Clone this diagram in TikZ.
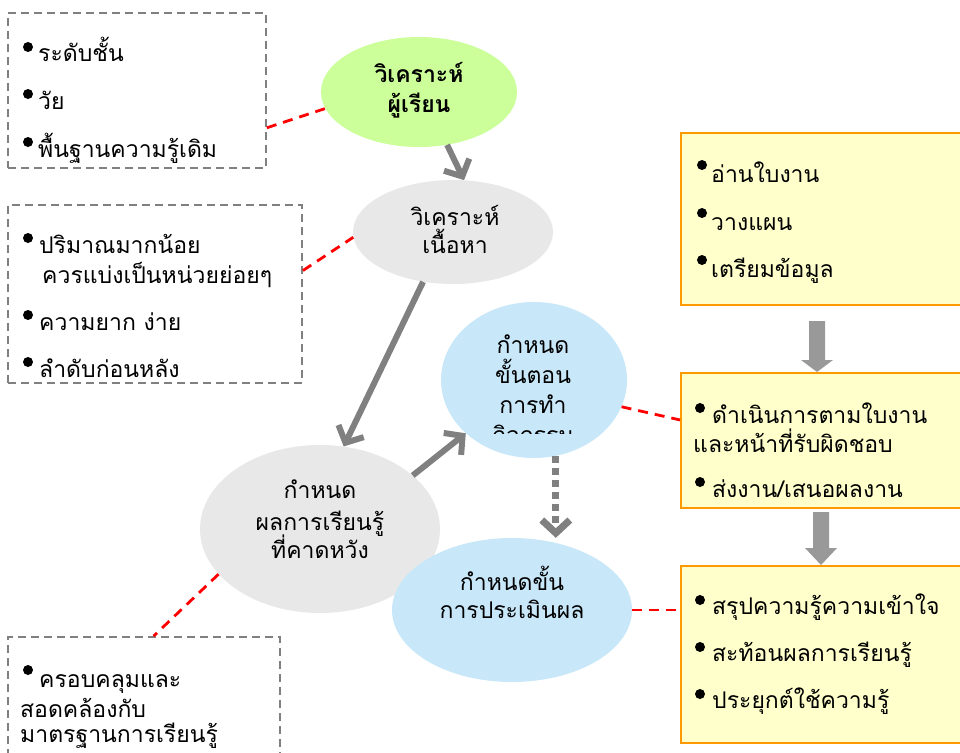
\documentclass[tikz,border=0pt]{standalone}
\usepackage{fontspec}
\setmainfont[Script=Thai]{Loma}
\usetikzlibrary{arrows.meta,shapes.geometric,calc}

\definecolor{leafgreen}{HTML}{CCFF99}
\definecolor{mistgray}{HTML}{E8E8E8}
\definecolor{skyblue}{HTML}{C8E8FA}
\definecolor{notefill}{HTML}{FFFFCC}
\definecolor{noteedge}{HTML}{FF9900}
\definecolor{arrowgray}{HTML}{808080}
\definecolor{blockgray}{HTML}{999999}

\tikzset{
  txt/.style={anchor=base west, inner sep=0pt, font=\fontsize{23}{23}\selectfont},
  etxt/.style={anchor=base, inner sep=0pt, font=\fontsize{23}{23}\selectfont},
  dot/.style={circle, fill=black, inner sep=0pt, minimum size=10pt},
  bubble/.style={ellipse, inner sep=0pt},
  notebox/.style={rectangle, inner sep=0pt, draw=arrowgray, line width=1.8pt,
    dash pattern=on 8pt off 5pt},
  yellowbox/.style={rectangle, inner sep=0pt, draw=noteedge, fill=notefill, line width=2pt},
  redlink/.style={draw=red, line width=2.8pt, dash pattern=on 10pt off 7pt},
  flow/.style={draw=arrowgray, line width=6pt, -{Straight Barb[length=13pt, width=28pt]}},
  flowdot/.style={flow, line width=7pt, dash pattern=on 7pt off 5pt},
}

\begin{document}
\begin{tikzpicture}[x=1pt, y=-1pt]
\useasboundingbox (0,0) rectangle (960,752);
\clip (0,0) rectangle (960,752);
\fill[white] (0,0) rectangle (960,752);

% ---------- dashed note boxes on the left ----------
\node[notebox, minimum width=258pt, minimum height=155pt] (learner) at (137,90.5) {};
\node[notebox, minimum width=294pt, minimum height=178pt] (content) at (155,294) {};
\node[notebox, minimum width=272pt, minimum height=163pt] (standard) at (144,718.5) {};

% ---------- yellow task boxes on the right ----------
\node[yellowbox, minimum width=299pt, minimum height=172pt] (prep) at (830.5,219) {};
\node[yellowbox, minimum width=299pt, minimum height=135pt] (work) at (830.5,440.5) {};
\node[yellowbox, minimum width=299pt, minimum height=177pt] (sumup) at (830.5,654.5) {};

% block arrows between the task boxes
\fill[blockgray] (809,321) -- (825,321) -- (825,360) -- (833,360) -- (817,372)
  -- (801,360) -- (809,360) -- cycle;
\fill[blockgray] (813,512) -- (829,512) -- (829,548) -- (837,548) -- (821,565)
  -- (805,548) -- (813,548) -- cycle;

% ---------- process bubbles ----------
\node[bubble, fill=leafgreen, minimum width=196pt, minimum height=110pt] (g1) at (419,92) {};
\node[bubble, fill=mistgray, minimum width=200pt, minimum height=104pt] (g2) at (453,232) {};
\node[bubble, fill=mistgray, minimum width=240pt, minimum height=168pt] (g3) at (320,529) {};
\node[bubble, fill=skyblue, minimum width=186pt, minimum height=156pt] (b1) at (534,380) {};
\node[bubble, fill=skyblue, minimum width=240pt, minimum height=144pt] (b2) at (512,610) {};

% bubble captions
\node[etxt, font=\fontsize{23}{23}\selectfont\bfseries] (g1a) at (419,82) {วิเคราะห์};
\node[etxt, font=\fontsize{23}{23}\selectfont\bfseries] (g1b) at (419,112) {ผู้เรียน};
\node[etxt] (g2a) at (455,225) {วิเคราะห์};
\node[etxt] (g2b) at (455,253) {เนื้อหา};
\node[etxt] (g3a) at (320,498) {กำหนด};
\node[etxt] (g3b) at (320,530) {ผลการเรียนรู้};
\node[etxt] (g3c) at (320,558) {ที่คาดหวัง};
\node[etxt] (b1a) at (533,353) {กำหนด};
\node[etxt] (b1b) at (533,383) {ขั้นตอน};
\node[etxt] (b1c) at (533,413) {การทำ};
\begin{scope}
  \clip (440,300) rectangle (630,433);
  \node[etxt] (b1d) at (533,443) {กิจกรรม};
\end{scope}
\node[etxt] (b2a) at (512,590) {กำหนดขั้น};
\node[etxt] (b2b) at (512,618) {การประเมินผล};

% ---------- flow arrows ----------
\draw[flow] (g1.-62) -- (g2.78);
\draw[flow] (g2.-121) -- (g3.74);
\draw[flow] (g3.30) -- (b1.-142);
\draw[flowdot] (b1.-74) -- (b1.-74 |- b2.north);

% ---------- red dashed links ----------
\draw[redlink] (learner.-16) -- (g1.190);
\draw[redlink] (content.9) -- (g2.183);
\draw[redlink] (g3.204) -- ($(standard.north west)!0.535!(standard.north east)$);
\draw[redlink] (b1.-17) -- ($(work.north west)!0.35!(work.south west)$);
\draw[redlink] (b2.east) -- (b2.east -| sumup.west);

% ---------- list texts ----------
\node[dot] (l1d) at (28,47) {};
\node[txt] (l1) at (38,62) {ระดับชั้น};
\node[dot] (l2d) at (28,94) {};
\node[txt] (l2) at (38,109) {วัย};
\node[dot] (l3d) at (28,142) {};
\node[txt] (l3) at (38,157) {พื้นฐานความรู้เดิม};

\node[dot] (c1d) at (28,238) {};
\node[txt] (c1) at (39,253) {ปริมาณมากน้อย};
\node[txt] (c1b) at (42,283) {ควรแบ่งเป็นหน่วยย่อยๆ};
\node[dot] (c2d) at (28,315) {};
\node[txt] (c2) at (39,330) {ความยาก ง่าย};
\node[dot] (c3d) at (28,362) {};
\node[txt] (c3) at (39,377) {ลำดับก่อนหลัง};

\node[dot] (s1d) at (28,670) {};
\node[txt] (s1) at (39,687) {ครอบคลุมและ};
\node[txt] (s1b) at (20,717) {สอดคล้องกับ};
\node[txt] (s1c) at (20,742) {มาตรฐานการเรียนรู้};

\node[dot] (p1d) at (702,165) {};
\node[txt] (p1) at (711,182) {อ่านใบงาน};
\node[dot] (p2d) at (702,213) {};
\node[txt] (p2) at (711,230) {วางแผน};
\node[dot] (p3d) at (702,260) {};
\node[txt] (p3) at (711,277) {เตรียมข้อมูล};

\node[dot] (w1d) at (700,408) {};
\node[txt] (w1) at (712,423) {ดำเนินการตามใบงาน};
\node[txt] (w1b) at (693,452) {และหน้าที่รับผิดชอบ};
\node[dot] (w2d) at (700,482) {};
\node[txt] (w2) at (712,497) {ส่งงาน/เสนอผลงาน};

\node[dot] (u1d) at (700,600) {};
\node[txt] (u1) at (712,614) {สรุปความรู้ความเข้าใจ};
\node[dot] (u2d) at (700,647) {};
\node[txt] (u2) at (712,661) {สะท้อนผลการเรียนรู้};
\node[dot] (u3d) at (700,694) {};
\node[txt] (u3) at (712,708) {ประยุกต์ใช้ความรู้};
\end{tikzpicture}
\end{document}
